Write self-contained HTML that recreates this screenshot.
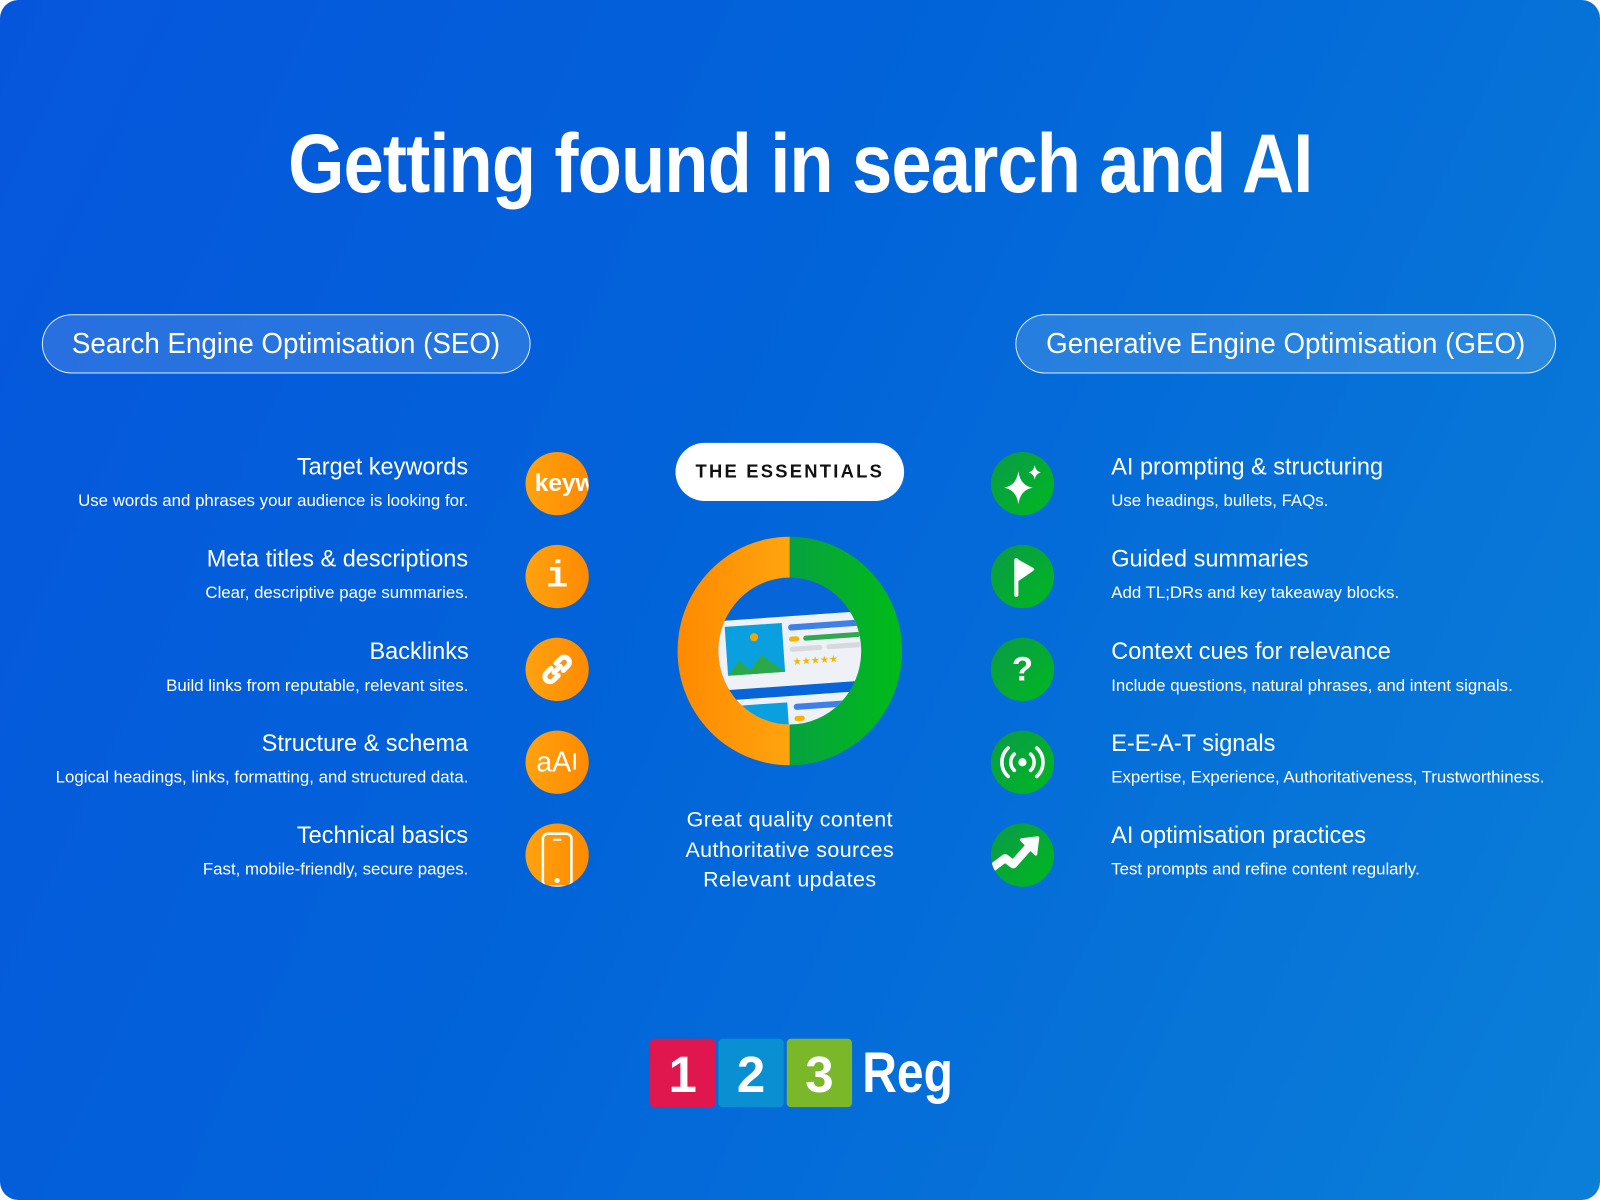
<!DOCTYPE html>
<html><head><meta charset="utf-8"><style>
html,body{margin:0;padding:0;width:1600px;height:1200px;overflow:hidden;background:#fff;}
#w{position:absolute;left:0;top:0;width:1568px;height:1176px;transform:scale(1.020408);transform-origin:0 0;}
#bg{position:absolute;left:0;top:0;width:1568px;height:1176px;border-radius:18px;background:linear-gradient(115deg,#0656dc 0%,#0264d9 45%,#0a7fd8 100%);overflow:hidden;font-family:"Liberation Sans",sans-serif;color:#fff;}
.abs{position:absolute;}
.title{left:0;width:1568px;top:114px;text-align:center;font-size:82px;font-weight:bold;white-space:nowrap;}
.title span{display:inline-block;transform:scaleX(0.865);letter-spacing:-1px;}
.pill{top:308px;height:56px;border:1.5px solid rgba(255,255,255,0.85);border-radius:30px;background:rgba(255,255,255,0.14);font-size:28px;line-height:56px;text-align:center;white-space:nowrap;}
.pill span{display:inline-block;transform:scaleX(0.97);}
.lt{right:1109px;text-align:right;white-space:nowrap;}
.rt{left:1089px;text-align:left;white-space:nowrap;}
.h{font-size:24px;font-weight:normal;}
.h span{display:inline-block;transform:scaleX(0.96);}
.d span{display:inline-block;}
.lt .h span{transform-origin:right center;}
.rt .h span{transform-origin:left center;}
.d{font-size:16.5px;margin-top:10px;}
.c{width:62px;height:62px;border-radius:50%;display:flex;align-items:center;justify-content:center;color:#fff;font-weight:bold;overflow:hidden;}
.o{background:linear-gradient(90deg,#ffa210,#ff8a00);}
.g{background:linear-gradient(135deg,#0a9a4a,#00b81e);}
</style></head><body><div id="w"><div id="bg">
<div class="abs title"><span>Getting found in search and AI</span></div>
<div class="abs pill" style="left:41px;width:477px;"><span>Search Engine Optimisation (SEO)</span></div>
<div class="abs pill" style="left:995px;width:528px;"><span>Generative Engine Optimisation (GEO)</span></div>

<div class="abs lt" style="top:444px"><div class="h"><span>Target keywords</span></div><div class="d"><span>Use words and phrases your audience is looking for.</span></div></div>
<div class="abs lt" style="top:534px"><div class="h"><span>Meta titles &amp; descriptions</span></div><div class="d"><span>Clear, descriptive page summaries.</span></div></div>
<div class="abs lt" style="top:625px"><div class="h"><span>Backlinks</span></div><div class="d"><span>Build links from reputable, relevant sites.</span></div></div>
<div class="abs lt" style="top:715px"><div class="h"><span>Structure &amp; schema</span></div><div class="d"><span>Logical headings, links, formatting, and structured data.</span></div></div>
<div class="abs lt" style="top:805px"><div class="h"><span>Technical basics</span></div><div class="d"><span>Fast, mobile-friendly, secure pages.</span></div></div>

<div class="abs rt" style="top:444px"><div class="h"><span>AI prompting &amp; structuring</span></div><div class="d"><span>Use headings, bullets, FAQs.</span></div></div>
<div class="abs rt" style="top:534px"><div class="h"><span>Guided summaries</span></div><div class="d"><span>Add TL;DRs and key takeaway blocks.</span></div></div>
<div class="abs rt" style="top:625px"><div class="h"><span>Context cues for relevance</span></div><div class="d"><span>Include questions, natural phrases, and intent signals.</span></div></div>
<div class="abs rt" style="top:715px"><div class="h"><span>E-E-A-T signals</span></div><div class="d"><span>Expertise, Experience, Authoritativeness, Trustworthiness.</span></div></div>
<div class="abs rt" style="top:805px"><div class="h"><span>AI optimisation practices</span></div><div class="d"><span>Test prompts and refine content regularly.</span></div></div>

<div class="abs c o" style="left:515px;top:443px;font-size:24px;justify-content:flex-start;padding-left:9px;box-sizing:border-box;">keyw</div>
<div class="abs c o" style="left:515px;top:534px;font-size:36px;font-family:'Liberation Mono',monospace;">i</div>
<div class="abs c o" style="left:515px;top:625px;"><svg width="40" height="40" viewBox="0 0 40 40" fill="none" stroke="#fff" stroke-width="5" stroke-linecap="round"><path d="M17 23 L23 17"/><path d="M14 19 l-5 5 a5 5 0 0 0 7 7 l5 -5"/><path d="M26 21 l5 -5 a5 5 0 0 0 -7 -7 l-5 5"/></svg></div>
<div class="abs c o" style="left:515px;top:716px;font-size:28px;font-weight:normal;">aA<span style="font-weight:100;font-size:24px">I</span></div>
<div class="abs c o" style="left:515px;top:807px;"><svg width="40" height="62" viewBox="0 0 40 62"><rect x="6" y="10" width="28" height="52" rx="5" fill="none" stroke="#fff" stroke-width="2.5"/><rect x="16" y="15" width="8" height="2" fill="#fff"/><circle cx="20" cy="56" r="2.5" fill="#fff"/></svg></div>

<div class="abs c g" style="left:971px;top:443px;"><svg width="44" height="44" viewBox="0 0 44 44" fill="#fff"><path d="M18 10 Q20 24 32 26 Q20 28 18 42 Q16 28 4 26 Q16 24 18 10Z"/><path d="M34 4 Q35 10 40 11 Q35 12 34 18 Q33 12 28 11 Q33 10 34 4Z"/></svg></div>
<div class="abs c g" style="left:971px;top:534px;"><svg width="40" height="44" viewBox="0 0 40 44"><path d="M14 6 L14 40" stroke="#fff" stroke-width="4" stroke-linecap="round"/><path d="M14 6 L30 15 L14 26Z" fill="#fff" stroke="#fff" stroke-width="3" stroke-linejoin="round"/></svg></div>
<div class="abs c g" style="left:971px;top:625px;font-size:34px;">?</div>
<div class="abs c g" style="left:971px;top:716px;"><svg width="46" height="40" viewBox="0 0 46 40" fill="none" stroke="#fff" stroke-width="3.5" stroke-linecap="round"><circle cx="23" cy="20" r="4" fill="#fff" stroke="none"/><path d="M15 12 a11 11 0 0 0 0 16"/><path d="M31 12 a11 11 0 0 1 0 16"/><path d="M9 6 a19 19 0 0 0 0 28"/><path d="M37 6 a19 19 0 0 1 0 28"/></svg></div>
<div class="abs c g" style="left:971px;top:807px;"><svg width="62" height="62" viewBox="0 0 62 62"><path d="M-2 46 L14 34 L22 40 L38 22" fill="none" stroke="#fff" stroke-width="8" stroke-linejoin="round"/><path d="M30 16 L46 14 L44 30Z" fill="#fff" stroke="#fff" stroke-width="3" stroke-linejoin="round"/></svg></div>

<div class="abs" style="left:662px;top:434px;width:224px;height:57px;border-radius:29px;background:#fff;color:#111;font-size:18px;font-weight:bold;letter-spacing:2.2px;text-align:center;line-height:57px;">THE ESSENTIALS</div>

<svg class="abs" style="left:660px;top:522px" width="228" height="232" viewBox="0 0 228 232">
<defs><clipPath id="ic"><ellipse cx="114" cy="116" rx="70" ry="72"/></clipPath>
<linearGradient id="og" x1="0" x2="1"><stop offset="0" stop-color="#ff8a00"/><stop offset="1" stop-color="#ffa40e"/></linearGradient>
<linearGradient id="gg" x1="0" x2="1"><stop offset="0" stop-color="#07a240"/><stop offset="1" stop-color="#00bb18"/></linearGradient></defs>
<path d="M114 4 A110 112 0 0 0 114 228Z" fill="url(#og)"/>
<path d="M114 4 A110 112 0 0 1 114 228Z" fill="url(#gg)"/>
<ellipse cx="114" cy="116" rx="70" ry="72" fill="#0665d8"/>
<g clip-path="url(#ic)">
<g transform="rotate(-4 114 116)">
<rect x="44" y="82" width="150" height="68" rx="10" fill="#eef1f5"/>
<rect x="52" y="88" width="56" height="48" fill="#0aa0e0"/>
<polygon points="52,136 64,122 74,132 86,118 108,136" fill="#2aa84a"/>
<circle cx="80" cy="100" r="4" fill="#f7a400"/>
<rect x="114" y="90" width="70" height="6" rx="3" fill="#3f7fe8"/>
<rect x="114" y="102" width="10" height="5" rx="2.5" fill="#f5b400"/>
<rect x="128" y="102" width="56" height="5" rx="2.5" fill="#2fa84f"/>
<rect x="114" y="112" width="32" height="5" rx="2.5" fill="#d7d9de"/>
<rect x="150" y="112" width="34" height="5" rx="2.5" fill="#d7d9de"/>
<text x="116" y="130" font-size="10" fill="#f5b400">★★★★★</text>
<rect x="44" y="160" width="150" height="50" rx="10" fill="#eef1f5"/>
<rect x="52" y="166" width="56" height="40" fill="#0aa0e0"/>
<rect x="114" y="168" width="70" height="6" rx="3" fill="#3f7fe8"/>
<rect x="114" y="180" width="10" height="5" rx="2.5" fill="#f5b400"/>
</g></g>
</svg>

<div class="abs" style="left:574px;width:400px;top:789px;text-align:center;font-size:21px;line-height:29.5px;font-weight:300;letter-spacing:0.4px;">Great quality content<br>Authoritative sources<br>Relevant updates</div>

<div class="abs" style="left:637px;top:1018px;width:64px;height:67px;border-radius:4px;background:#e0174e;"></div>
<div class="abs" style="left:704px;top:1018px;width:64px;height:67px;border-radius:4px;background:#0a8fd2;"></div>
<div class="abs" style="left:771px;top:1018px;width:64px;height:67px;border-radius:4px;background:#7ab829;"></div>
<div class="abs" style="left:637px;top:1018px;width:64px;line-height:70px;text-align:center;font-size:50px;font-weight:bold;">1</div>
<div class="abs" style="left:704px;top:1018px;width:64px;line-height:70px;text-align:center;font-size:50px;font-weight:bold;">2</div>
<div class="abs" style="left:771px;top:1018px;width:64px;line-height:70px;text-align:center;font-size:50px;font-weight:bold;">3</div>
<div class="abs" style="left:845px;top:1016px;line-height:70px;font-size:56px;font-weight:bold;"><span style="display:inline-block;transform:scaleX(0.84);transform-origin:left center;">Reg</span></div>
</div></div></body></html>
